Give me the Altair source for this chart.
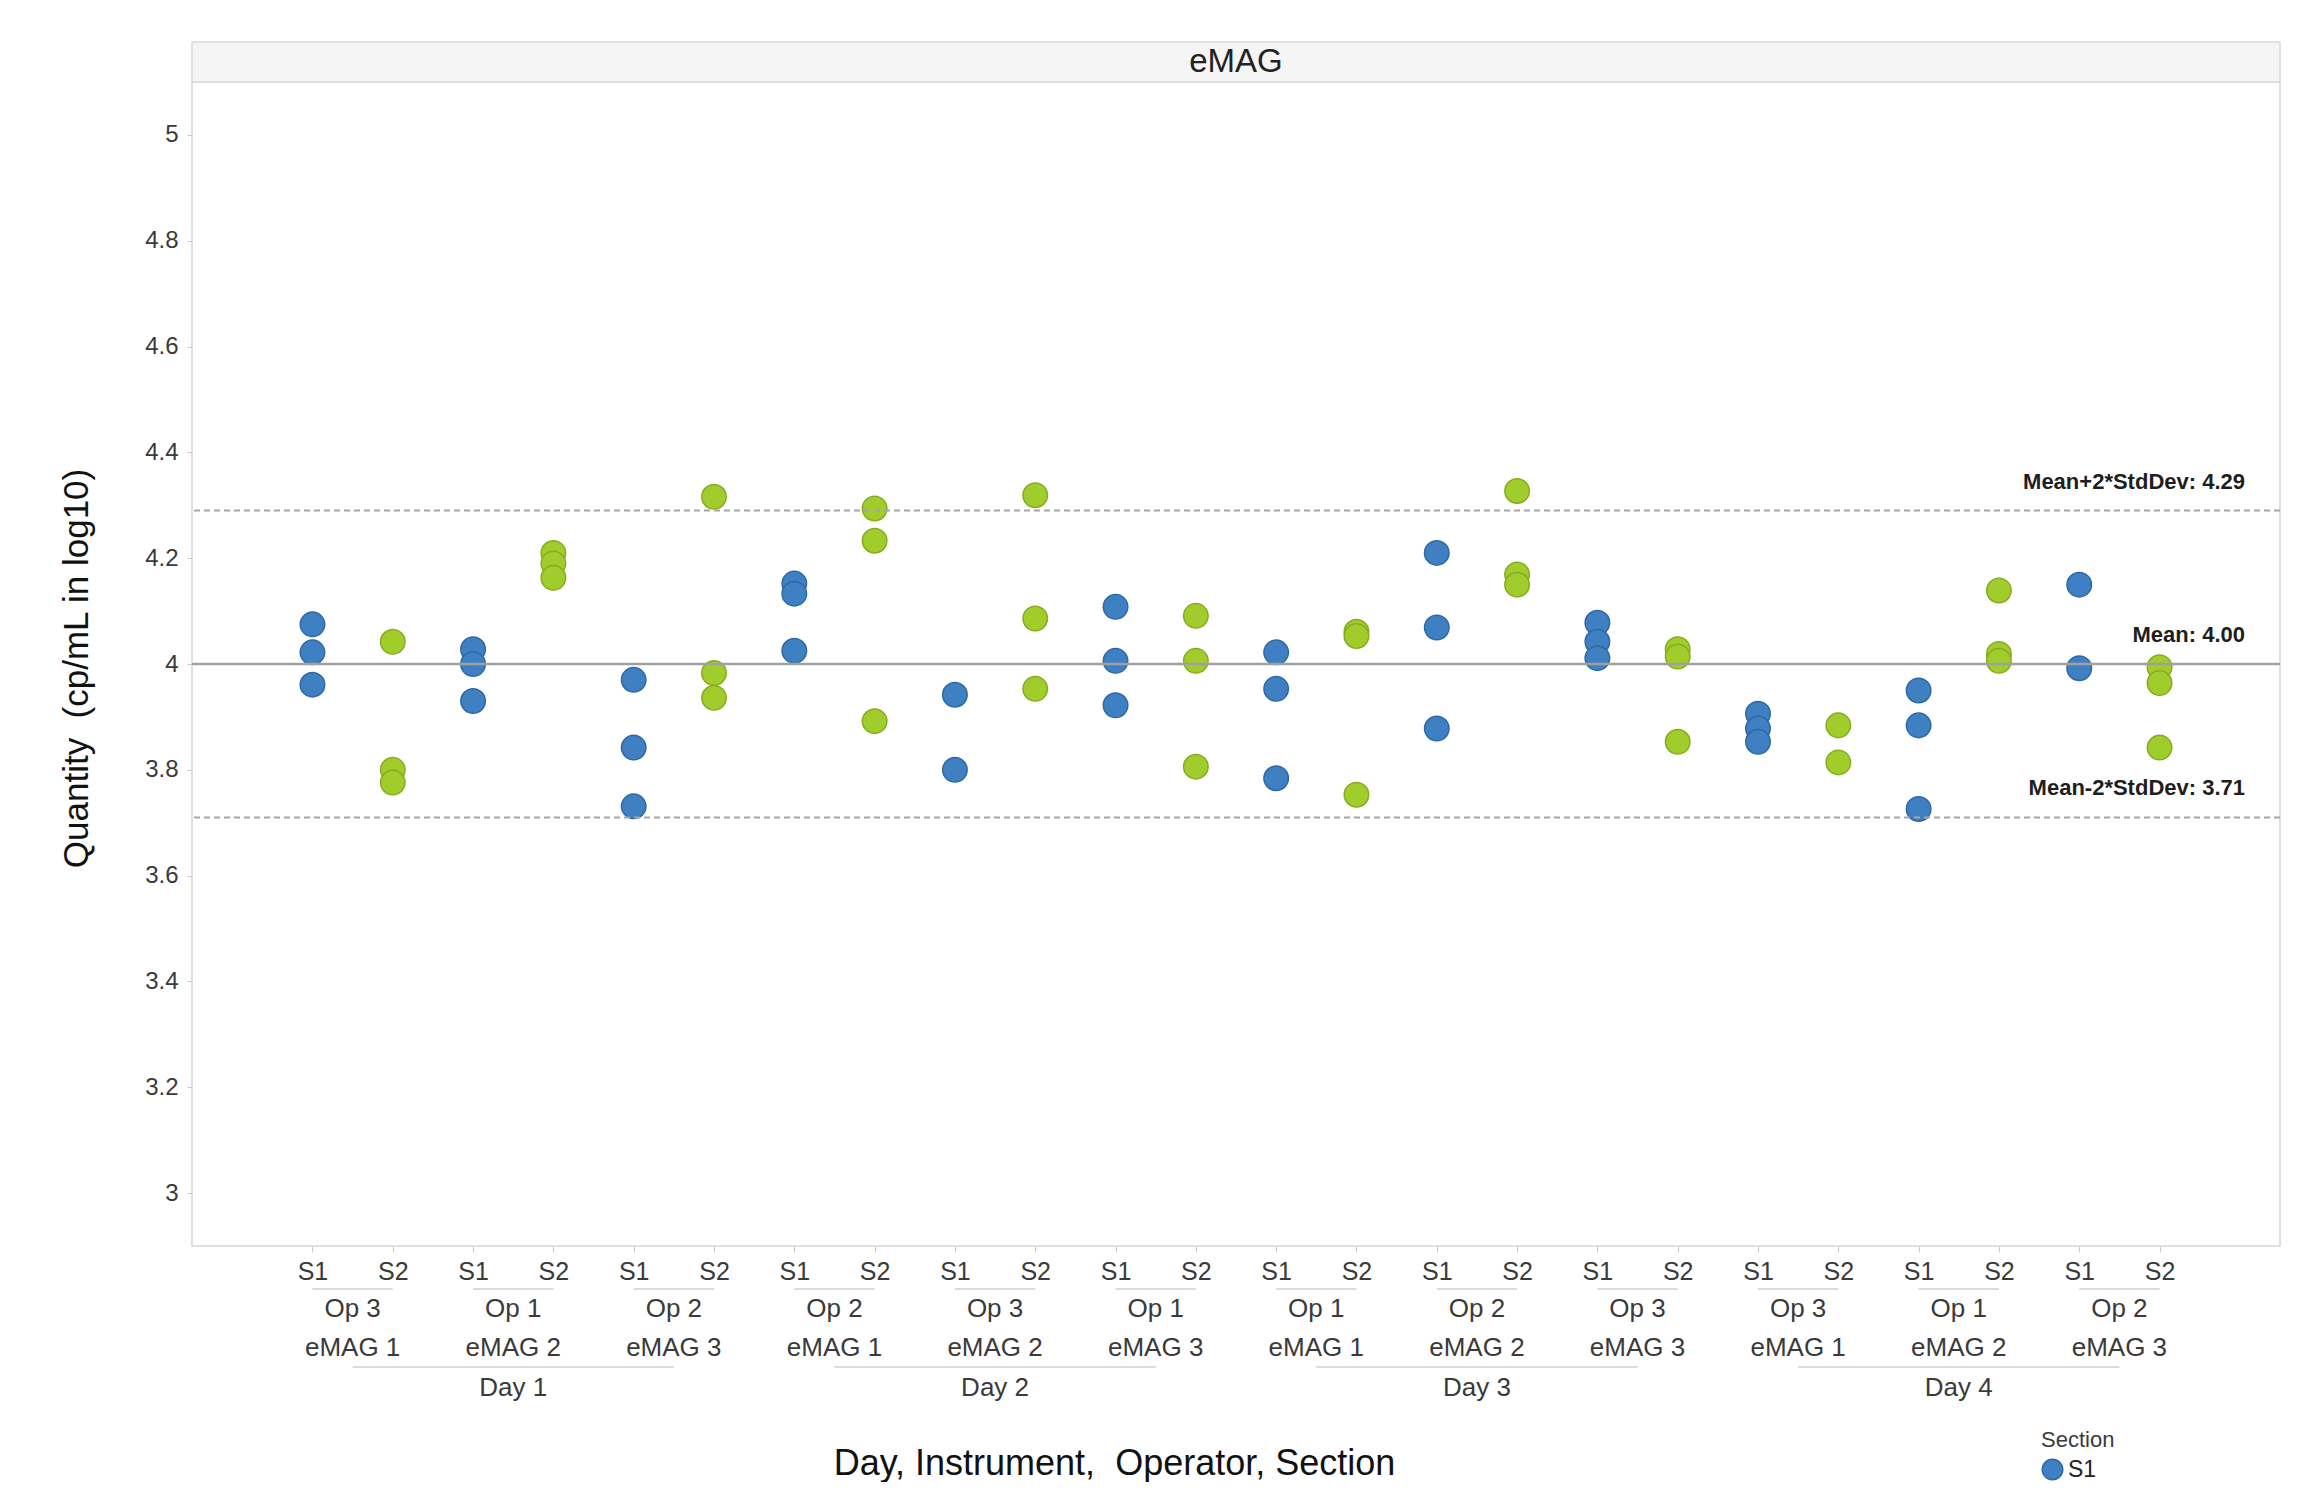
import json
import altair as alt
import pandas as pd

# ---------------- data ----------------
days = ["Day 1", "Day 2", "Day 3", "Day 4"]
instruments = ["eMAG 1", "eMAG 2", "eMAG 3"]
operators = [
    ["Op 3", "Op 1", "Op 2"],
    ["Op 2", "Op 3", "Op 1"],
    ["Op 1", "Op 2", "Op 3"],
    ["Op 3", "Op 1", "Op 2"],
]
sections = ["S1", "S2"]
# one list per (day, instrument, section) column, left to right
quantities = [
    [4.075, 4.022, 3.961], [4.042, 3.800, 3.776],
    [4.028, 4.000, 3.930], [4.210, 4.190, 4.163],
    [3.970, 3.842, 3.731], [4.316, 3.983, 3.936],
    [4.152, 4.133, 4.025], [4.294, 4.233, 3.892],
    [3.942, 3.800], [4.319, 4.086, 3.953],
    [4.108, 4.006, 3.922], [4.091, 4.006, 3.806],
    [4.022, 3.953, 3.784], [4.061, 4.053, 3.753],
    [4.210, 4.069, 3.878], [4.327, 4.169, 4.150],
    [4.078, 4.042, 4.011], [4.028, 4.014, 3.853],
    [3.906, 3.878, 3.853], [3.884, 3.814],
    [3.950, 3.884, 3.726], [4.139, 4.019, 4.006],
    [4.150, 3.992], [3.994, 3.964, 3.842],
]
ref_labels = ["Mean+2*StdDev: 4.29", "Mean: 4.00", "Mean-2*StdDev: 3.71"]
ref_values = [4.29, 4.00, 3.71]
ref_kind = ["limit", "mean", "limit"]
y_ticks = [3.0, 3.2, 3.4, 3.6, 3.8, 4.0, 4.2, 4.4, 4.6, 4.8, 5.0]
panel = ["eMAG"]
x_title = "Day, Instrument,\u00a0 Operator, Section"
y_title = "Quantity\u00a0 (cp/mL in log10)"

# ---------------- tables ----------------
pts, groups, dayrows = [], [], []
for d, day in enumerate(days):
    for k, inst in enumerate(instruments):
        g = d * len(instruments) + k
        op = operators[d][k]
        groups.append(dict(pos=2 * g + 0.5, start=2 * g, end=2 * g + 1, op=op, inst=inst))
        for s, sec in enumerate(sections):
            pos = 2 * g + s
            for v in quantities[pos]:
                pts.append(dict(pos=pos, Section=sec, Quantity=v, Day=day,
                                Instrument=inst, Operator=op))
    first = d * len(instruments) * 2
    dayrows.append(dict(pos=first + 2.5, start=first + 0.5, end=first + 4.5, day=day))

pts = pd.DataFrame(pts)
groups = pd.DataFrame(groups)
dayrows = pd.DataFrame(dayrows)
refs = pd.DataFrame(dict(label=ref_labels, Quantity=ref_values, kind=ref_kind))
header = pd.DataFrame(dict(panel=panel))

ncols = len(quantities)
W, H = 2088, 1164
FONT = "Arial, Liberation Sans, sans-serif"
TXT = "#3a3a3a"

xscale = alt.Scale(domain=[-1.5, ncols + 0.5], nice=False, zero=False)
yscale = alt.Scale(domain=[2.9, 5.1], nice=False, zero=False)

x_axis = alt.Axis(values=list(range(ncols)),
                  labelExpr=f"{json.dumps(sections)}[datum.value % 2]",
                  title=x_title,
                  titleX=922, titleY=217, titleBaseline="middle",
                  titleFontSize=36, titleFontWeight="normal", titleColor="#111",
                  labelFontSize=25, labelColor=TXT, labelPadding=7,
                  tickSize=6, tickColor="#c8c8c8", domain=False, grid=False,
                  labelFlush=False, labelOverlap=False)
y_axis = alt.Axis(values=y_ticks, format=".1~f",
                  title=y_title,
                  titleX=-116, titleY=H / 2 + 4, titleBaseline="middle",
                  titleFontSize=35, titleFontWeight="normal", titleColor="#111",
                  labelFontSize=24, labelColor=TXT, labelPadding=9,
                  tickSize=5, tickColor="#c8c8c8", domain=False, grid=False)

points = alt.Chart(pts).mark_point(filled=True, opacity=1, size=600, strokeWidth=1.5).encode(
    x=alt.X("pos:Q", scale=xscale, axis=x_axis),
    y=alt.Y("Quantity:Q", scale=yscale, axis=y_axis),
    fill=alt.Color("Section:N", scale=alt.Scale(domain=sections, range=["#3f80c2", "#a0cc2c"]),
                   legend=alt.Legend(title="Section", orient="none", legendX=1849, legendY=1348,
                                     symbolType="circle", symbolSize=420,
                                     titleFontSize=22, titleFontWeight="normal", titleColor=TXT,
                                     labelFontSize=23, labelColor="#222", titlePadding=6)),
    stroke=alt.Stroke("Section:N", scale=alt.Scale(domain=sections, range=["#2e69a6", "#86ad1f"]),
                      legend=None),
    order=alt.Order("pos:Q"),
)

limit_lines = alt.Chart(refs).transform_filter("datum.kind == 'limit'").mark_rule(
    color="#a6a6a6", strokeWidth=2, strokeDash=[6, 4]
).encode(y=alt.Y("Quantity:Q", scale=yscale))

mean_line = alt.Chart(refs).transform_filter("datum.kind == 'mean'").mark_rule(
    color="#a0a0a0", strokeWidth=2.5
).encode(y=alt.Y("Quantity:Q", scale=yscale))

ref_text = alt.Chart(refs).mark_text(
    align="right", baseline="alphabetic", dy=-22, fontSize=22, fontWeight="bold", color="#1e1e1e"
).encode(x=alt.value(2053), y=alt.Y("Quantity:Q", scale=yscale), text="label:N")

head_rect = alt.Chart(header).mark_rect(fill="#f5f5f5", stroke="#d9d9d9", strokeWidth=1.5).encode(
    x=alt.value(0), x2=alt.value(W), y=alt.value(-40), y2=alt.value(0))
head_text = alt.Chart(header).mark_text(fontSize=33, color="#222", baseline="middle").encode(
    x=alt.value(W / 2), y=alt.value(-20), text="panel:N")

s_bracket = alt.Chart(groups).mark_rule(color="#cfcfcf", strokeWidth=1.5).encode(
    x=alt.X("start:Q", scale=xscale), x2="end:Q", y=alt.value(H + 43))
op_text = alt.Chart(groups).mark_text(fontSize=26, color=TXT, baseline="middle").encode(
    x=alt.X("pos:Q", scale=xscale), y=alt.value(H + 63), text="op:N")
inst_text = alt.Chart(groups).mark_text(fontSize=26, color=TXT, baseline="middle").encode(
    x=alt.X("pos:Q", scale=xscale), y=alt.value(H + 102), text="inst:N")
day_bracket = alt.Chart(dayrows).mark_rule(color="#cfcfcf", strokeWidth=1.5).encode(
    x=alt.X("start:Q", scale=xscale), x2="end:Q", y=alt.value(H + 121))
day_text = alt.Chart(dayrows).mark_text(fontSize=26, color=TXT, baseline="middle").encode(
    x=alt.X("pos:Q", scale=xscale), y=alt.value(H + 142), text="day:N")

chart = alt.layer(
    points, head_rect, head_text, limit_lines, mean_line, ref_text,
    s_bracket, op_text, inst_text, day_bracket, day_text,
).properties(
    width=W, height=H,
    autosize=alt.AutoSizeParams(type="none"),
    padding={"left": 184, "top": 74, "right": 4, "bottom": 236},
    background="white",
).configure(font=FONT).configure_view(stroke="#d6d6d6", strokeWidth=1.5)

chart.save("out.html", embed_options={"renderer": "svg", "actions": False})
